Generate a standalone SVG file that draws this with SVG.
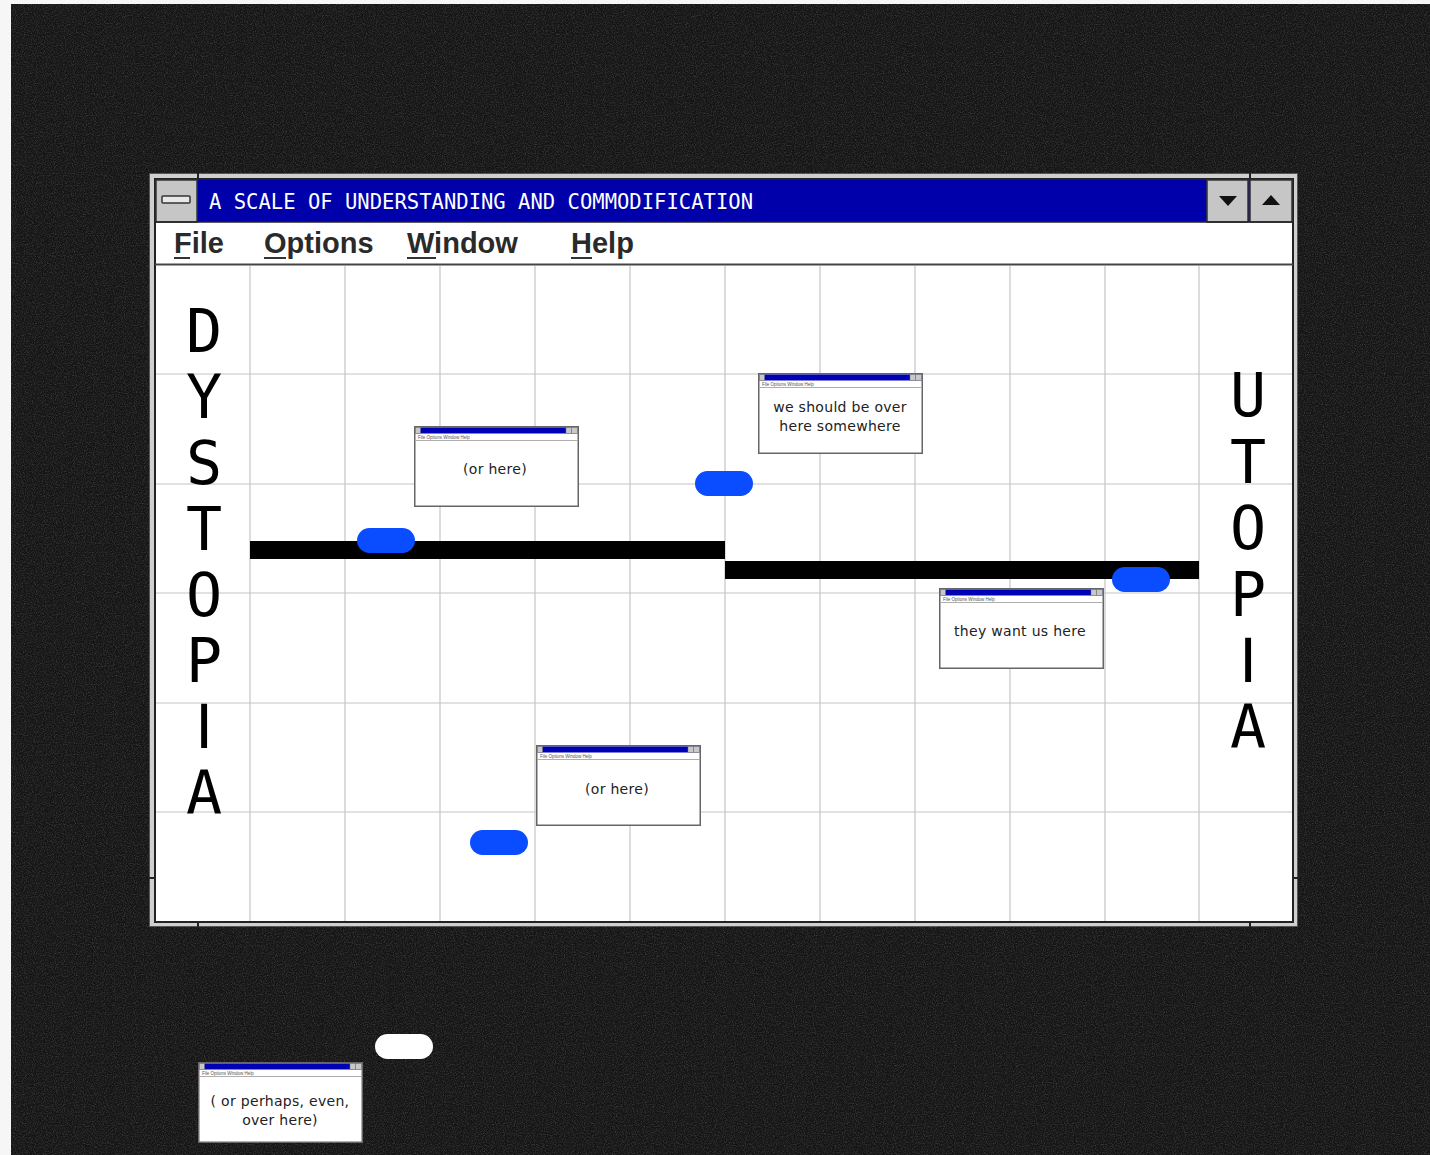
<svg xmlns="http://www.w3.org/2000/svg" xmlns:xlink="http://www.w3.org/1999/xlink" width="1430" height="1155" viewBox="0 0 1430 1155">
<style>
.grid line{stroke:#c4c4c4;stroke-width:1.2}
.pill{fill:#0a4cff}
.bar{fill:#000}
.big{font-family:"DejaVu Sans Mono",monospace;font-size:60px;fill:#000;text-anchor:middle}
.bigi{font-family:"DejaVu Sans",sans-serif;font-size:60px;fill:#000;text-anchor:middle}
.menu{font-family:"Liberation Sans",Arial,sans-serif;font-weight:bold;font-size:29px;fill:#2a2a2a}
.title{font-family:"DejaVu Sans Mono",monospace;font-size:21px;fill:#fff}
.note{font-family:"DejaVu Sans",sans-serif;font-size:14px;fill:#222;text-anchor:middle;letter-spacing:0.3px}
.tiny{font-family:"Liberation Sans",Arial,sans-serif;font-size:4.5px;fill:#555}
</style>
<defs>
<filter id="grain" x="0" y="0" width="100%" height="100%">
<feTurbulence type="fractalNoise" baseFrequency="0.9" numOctaves="2" seed="3"/>
<feColorMatrix type="matrix" values="0 0 0 0 0.17  0 0 0 0 0.17  0 0 0 0 0.17  0 0 0 0.9 -0.38"/>
</filter>
<symbol id="miniwin" viewBox="0 0 165 81" width="165" height="81">
<rect x="0.75" y="0.75" width="163.5" height="79.5" fill="#fff" stroke="#666" stroke-width="1.5"/>
<rect x="1.5" y="1.5" width="162" height="6" fill="#0000b4"/>
<rect x="1.5" y="1.5" width="5" height="6" fill="#c8c8c8" stroke="#777" stroke-width="0.5"/>
<rect x="152" y="1.5" width="5.5" height="6" fill="#c8c8c8" stroke="#777" stroke-width="0.5"/>
<rect x="157.5" y="1.5" width="6" height="6" fill="#c8c8c8" stroke="#777" stroke-width="0.5"/>
<text class="tiny" x="4" y="12.5">File   Options   Window   Help</text>
<line x1="1.5" y1="14.5" x2="163.5" y2="14.5" stroke="#999" stroke-width="0.8"/>
</symbol>
</defs>

<rect x="0" y="0" width="1430" height="1155" fill="#f6f6f6"/>
<rect x="11" y="4" width="1419" height="1151" fill="#151515"/>
<rect x="11" y="4" width="1419" height="1151" filter="url(#grain)"/>

<g id="main-window">
<rect x="149.5" y="173.5" width="1148" height="753" fill="#cfcfcf" stroke="#555" stroke-width="1"/>
<rect x="155" y="179" width="1138" height="743" fill="#fff" stroke="#222" stroke-width="2"/>
<rect x="156" y="180" width="1136" height="42" fill="#0000aa"/>
<rect x="156" y="180" width="41" height="42" fill="#c6c6c6" stroke="#333" stroke-width="1.5"/>
<rect x="162" y="196" width="28" height="7" rx="1" fill="#e8e8e8" stroke="#333" stroke-width="1.5"/>
<text class="title" x="209" y="209" textLength="544" lengthAdjust="spacingAndGlyphs">A SCALE OF UNDERSTANDING AND COMMODIFICATION</text>
<rect x="1207" y="180" width="41" height="42" fill="#c6c6c6" stroke="#333" stroke-width="1.5"/>
<rect x="1250" y="180" width="42" height="42" fill="#c6c6c6" stroke="#333" stroke-width="1.5"/>
<path d="M1219 196 L1237 196 L1228 206 Z" fill="#111"/>
<path d="M1262 205 L1280 205 L1271 195 Z" fill="#111"/>
<line x1="155" y1="222" x2="1293" y2="222" stroke="#222" stroke-width="1.5"/>
<line x1="155" y1="264.5" x2="1293" y2="264.5" stroke="#444" stroke-width="2"/>
<text class="menu" x="174" y="253">File</text>
<text class="menu" x="264" y="253">Options</text>
<text class="menu" x="407" y="253">Window</text>
<text class="menu" x="571" y="253">Help</text>
<g stroke="#333" stroke-width="2">
<line x1="174" y1="258" x2="190" y2="258"/>
<line x1="264" y1="258" x2="286" y2="258"/>
<line x1="407" y1="258" x2="436" y2="258"/>
<line x1="571" y1="258" x2="592" y2="258"/>
</g>
<g stroke="#222" stroke-width="2">
<line x1="198" y1="173" x2="198" y2="179"/>
<line x1="1250" y1="173" x2="1250" y2="179"/>
<line x1="198" y1="922" x2="198" y2="927"/>
<line x1="1250" y1="922" x2="1250" y2="927"/>
<line x1="149" y1="878" x2="155" y2="878"/>
<line x1="1293" y1="878" x2="1298" y2="878"/>
</g>
</g>

<g id="grid" class="grid">
<line x1="250" y1="266" x2="250" y2="921"/>
<line x1="345" y1="266" x2="345" y2="921"/>
<line x1="440" y1="266" x2="440" y2="921"/>
<line x1="535" y1="266" x2="535" y2="921"/>
<line x1="630" y1="266" x2="630" y2="921"/>
<line x1="725" y1="266" x2="725" y2="921"/>
<line x1="820" y1="266" x2="820" y2="921"/>
<line x1="915" y1="266" x2="915" y2="921"/>
<line x1="1010" y1="266" x2="1010" y2="921"/>
<line x1="1105" y1="266" x2="1105" y2="921"/>
<line x1="1199" y1="266" x2="1199" y2="921"/>
<line x1="156" y1="374" x2="1292" y2="374"/>
<line x1="156" y1="484" x2="1292" y2="484"/>
<line x1="156" y1="593" x2="1292" y2="593"/>
<line x1="156" y1="703" x2="1292" y2="703"/>
<line x1="156" y1="812" x2="1292" y2="812"/>
</g>

<g id="dystopia-label">
<text class="big" x="204" y="352">D</text>
<text class="big" x="204" y="418">Y</text>
<text class="big" x="204" y="484">S</text>
<text class="big" x="204" y="550">T</text>
<text class="big" x="204" y="616">O</text>
<text class="big" x="204" y="682">P</text>
<text class="bigi" x="204" y="748">I</text>
<text class="big" x="204" y="814">A</text>
</g>
<g id="utopia-label">
<text class="big" x="1248" y="416">U</text>
<text class="big" x="1248" y="483">T</text>
<text class="big" x="1248" y="549">O</text>
<text class="big" x="1248" y="616">P</text>
<text class="bigi" x="1248" y="682">I</text>
<text class="big" x="1248" y="748">A</text>
</g>

<g id="connectors">
<rect class="bar" x="250" y="541" width="475" height="18"/>
<rect class="bar" x="725" y="561" width="474" height="18"/>
</g>

<g id="pill-1"><rect class="pill" x="357" y="528" width="58" height="25" rx="12.5"/></g>
<g id="pill-2"><rect class="pill" x="695" y="471" width="58" height="25" rx="12.5"/></g>
<g id="pill-3"><rect class="pill" x="1112" y="567" width="58" height="25" rx="12.5"/></g>
<g id="pill-4"><rect class="pill" x="470" y="830" width="58" height="25" rx="12.5"/></g>
<g id="pill-white"><rect x="375" y="1034" width="58" height="25" rx="12.5" fill="#fff"/></g>

<g id="note-or-here-1">
<use xlink:href="#miniwin" x="414" y="426" width="165" height="81"/>
<text class="note" x="495" y="474">(or here)</text>
</g>
<g id="note-should-be">
<use xlink:href="#miniwin" x="758" y="373" width="165" height="81"/>
<text class="note" x="840" y="412">we should be over</text>
<text class="note" x="840" y="431">here somewhere</text>
</g>
<g id="note-want-us">
<use xlink:href="#miniwin" x="939" y="588" width="165" height="81"/>
<text class="note" x="1020" y="636">they want us here</text>
</g>
<g id="note-or-here-2">
<use xlink:href="#miniwin" x="536" y="745" width="165" height="81"/>
<text class="note" x="617" y="794">(or here)</text>
</g>
<g id="note-perhaps">
<use xlink:href="#miniwin" x="198" y="1062" width="165" height="81"/>
<text class="note" x="280" y="1106">( or perhaps, even,</text>
<text class="note" x="280" y="1125">over here)</text>
</g>
</svg>
